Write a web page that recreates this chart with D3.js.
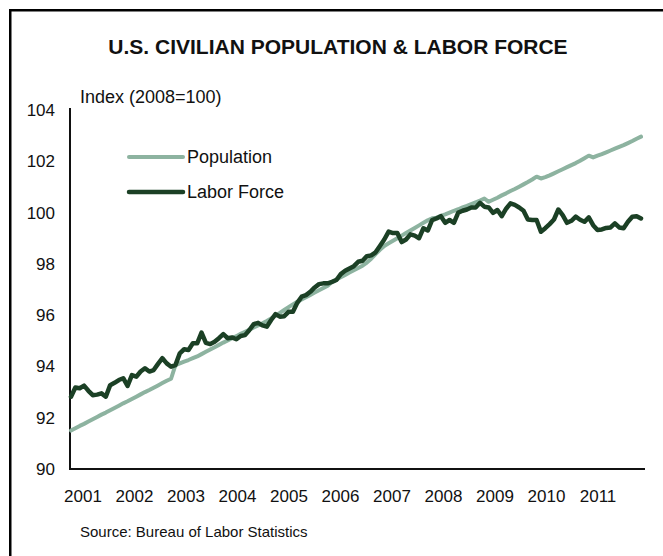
<!DOCTYPE html>
<html>
<head>
<meta charset="utf-8">
<script src="https://cdn.jsdelivr.net/npm/d3@7"></script>
<style>
  body { margin: 0; background: #fff; }
  text { font-family: "Liberation Sans", Arial, sans-serif; fill: #111; }
  .title { font-weight: bold; font-size: 21px; }
  .tick { font-size: 17px; }
  .lbl { font-size: 18px; }
  .src { font-size: 15px; }
  .axis-line { stroke: #111; stroke-width: 2; fill: none; }
  .line { fill: none; stroke-linejoin: round; stroke-linecap: round; }
</style>
</head>
<body>
<div id="chart"></div>
<script>
var width = 663, height = 556;

// years on the axis, monthly data Jan 2001 - Dec 2011
var years = ["2001", "2002", "2003", "2004", "2005", "2006", "2007", "2008", "2009", "2010", "2011"];
var yTicks = [90, 92, 94, 96, 98, 100, 102, 104];

// Index (2008=100)
var population = [
  91.50, 91.59, 91.68, 91.76, 91.85, 91.94, 92.03, 92.12, 92.20, 92.29, 92.38, 92.47,
  92.56, 92.64, 92.73, 92.82, 92.91, 93.00, 93.08, 93.17, 93.26, 93.35, 93.44, 93.52,
  94.05, 94.12, 94.19, 94.25, 94.32, 94.39, 94.48, 94.57, 94.66, 94.75, 94.84, 94.93,
  95.01, 95.10, 95.18, 95.27, 95.35, 95.43, 95.52, 95.60, 95.68, 95.77, 95.87, 95.98,
  96.09, 96.20, 96.31, 96.42, 96.52, 96.61, 96.70, 96.79, 96.88, 96.97, 97.06, 97.15,
  97.30, 97.39, 97.48, 97.57, 97.66, 97.75, 97.84, 97.93, 98.05, 98.20, 98.38, 98.55,
  98.70, 98.80, 98.90, 99.00, 99.10, 99.20, 99.30, 99.40, 99.50, 99.60, 99.70, 99.78,
  99.80, 99.87, 99.93, 100.00, 100.07, 100.13, 100.20, 100.26, 100.33, 100.40, 100.47, 100.55,
  100.42, 100.50, 100.58, 100.67, 100.75, 100.84, 100.92, 101.01, 101.10, 101.19, 101.29, 101.40,
  101.33, 101.38, 101.45, 101.53, 101.61, 101.69, 101.77, 101.85, 101.93, 102.02, 102.12, 102.22,
  102.15, 102.22, 102.28, 102.35, 102.42, 102.49, 102.56, 102.63, 102.71, 102.79, 102.88, 102.96
];

var laborForce = [
  92.82, 93.18, 93.15, 93.25, 93.05, 92.88, 92.90, 92.95, 92.82, 93.27, 93.36, 93.47,
  93.54, 93.24, 93.66, 93.60, 93.80, 93.93, 93.80, 93.86, 94.10, 94.32, 94.12, 93.99,
  94.05, 94.51, 94.67, 94.64, 94.90, 94.90, 95.32, 94.92, 94.87, 94.96, 95.10, 95.26,
  95.10, 95.13, 95.06, 95.19, 95.22, 95.42, 95.65, 95.70, 95.60, 95.55, 95.81, 96.04,
  95.94, 95.96, 96.13, 96.13, 96.48, 96.72, 96.78, 96.91, 97.08, 97.21, 97.24, 97.24,
  97.30, 97.37, 97.60, 97.73, 97.82, 97.91, 98.08, 98.12, 98.30, 98.33, 98.45, 98.70,
  98.95, 99.26, 99.20, 99.20, 98.85, 98.95, 99.15, 99.10, 99.00, 99.39, 99.30, 99.71,
  99.77, 99.86, 99.60, 99.71, 99.60, 100.00, 100.07, 100.12, 100.20, 100.20, 100.38, 100.23,
  100.20, 99.99, 100.10, 99.86, 100.15, 100.36, 100.30, 100.20, 100.07, 99.73, 99.71, 99.71,
  99.25, 99.39, 99.55, 99.73, 100.12, 99.90, 99.60, 99.68, 99.84, 99.72, 99.64, 99.81,
  99.51, 99.32, 99.34, 99.40, 99.42, 99.58, 99.42, 99.39, 99.64, 99.84, 99.86, 99.77
];

var series = [
  { name: "Population", values: population, color: "#8db3a0", width: 4 },
  { name: "Labor Force", values: laborForce, color: "#1b4025", width: 4.5 }
];

var svg = d3.select("#chart").append("svg")
  .attr("width", width)
  .attr("height", height);

// outer frame (runs off the right and bottom edge)
svg.append("rect")
  .attr("x", 10.25).attr("y", 10.25)
  .attr("width", 700).attr("height", 600)
  .attr("fill", "none")
  .attr("stroke", "#000")
  .attr("stroke-width", 2.5);

var x = d3.scaleLinear()
  .domain([0, population.length - 1])
  .range([71, 641]);

// year labels sit on their own spacing under the axis
var xLabel = d3.scalePoint()
  .domain(years)
  .range([83, 598]);

var y = d3.scaleLinear()
  .domain([90, 104])
  .range([469, 110]);

svg.append("text")
  .attr("class", "title")
  .attr("x", 338).attr("y", 54)
  .attr("text-anchor", "middle")
  .text("U.S. CIVILIAN POPULATION & LABOR FORCE");

svg.append("text")
  .attr("class", "lbl")
  .attr("x", 80).attr("y", 103)
  .text("Index (2008=100)");

// axes: plain lines, no ticks
svg.append("line").attr("class", "axis-line")
  .attr("x1", 70).attr("x2", 70)
  .attr("y1", 108).attr("y2", y(90));
svg.append("line").attr("class", "axis-line")
  .attr("x1", 69).attr("x2", 645)
  .attr("y1", y(90)).attr("y2", y(90));

svg.selectAll(".ytick")
  .data(yTicks)
  .enter().append("text")
    .attr("class", "tick ytick")
    .attr("x", 55)
    .attr("y", function(d) { return y(d); })
    .attr("dy", "0.35em")
    .attr("text-anchor", "end")
    .text(function(d) { return d; });

svg.selectAll(".xtick")
  .data(years)
  .enter().append("text")
    .attr("class", "tick xtick")
    .attr("x", function(d) { return xLabel(d); })
    .attr("y", 502)
    .attr("text-anchor", "middle")
    .text(function(d) { return d; });

var line = d3.line()
  .x(function(d, i) { return x(i); })
  .y(function(d) { return y(d); });

svg.selectAll(".line")
  .data(series)
  .enter().append("path")
    .attr("class", "line")
    .attr("stroke", function(d) { return d.color; })
    .attr("stroke-width", function(d) { return d.width; })
    .attr("d", function(d) { return line(d.values); });

var legend = svg.selectAll(".legend")
  .data(series)
  .enter().append("g")
    .attr("class", "legend")
    .attr("transform", function(d, i) { return "translate(129," + (157 + i * 35) + ")"; });

legend.append("line")
  .attr("x1", 0).attr("x2", 54)
  .attr("stroke", function(d) { return d.color; })
  .attr("stroke-width", function(d) { return d.width; })
  .attr("stroke-linecap", "round");

legend.append("text")
  .attr("class", "lbl")
  .attr("x", 58)
  .attr("dy", "0.35em")
  .text(function(d) { return d.name; });

svg.append("text")
  .attr("class", "src")
  .attr("x", 80).attr("y", 537)
  .text("Source: Bureau of Labor Statistics");
</script>
</body>
</html>
